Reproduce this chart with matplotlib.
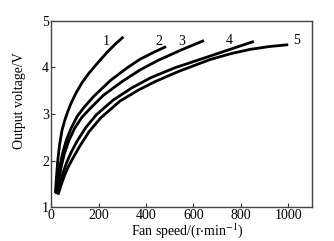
import matplotlib
matplotlib.use("Agg")
import matplotlib.pyplot as plt

plt.rcParams["font.family"] = ["Liberation Serif", "DejaVu Serif"]
plt.rcParams["mathtext.fontset"] = "stix"

# ── Data ──────────────────────────────────────────────────────────────

x1 = [18, 22, 28, 36, 46, 58, 70, 85, 105, 130, 160, 195, 235, 270, 305]
y1 = [1.30, 1.60, 2.00, 2.35, 2.65, 2.87, 3.05, 3.24, 3.45, 3.67, 3.88, 4.09, 4.32, 4.50, 4.66]

x2 = [22, 28, 36, 48, 65, 85, 110, 140, 180, 250, 320, 376, 430, 485]
y2 = [1.28, 1.55, 1.85, 2.15, 2.45, 2.70, 2.95, 3.15, 3.38, 3.72, 3.99, 4.18, 4.32, 4.45]

x3 = [25, 32, 42, 55, 75, 100, 130, 165, 220, 300, 376, 450, 550, 645]
y3 = [1.28, 1.55, 1.85, 2.13, 2.43, 2.70, 2.93, 3.12, 3.40, 3.70, 3.95, 4.15, 4.38, 4.58]

x4 = [28, 38, 50, 65, 85, 110, 145, 190, 262, 340, 420, 520, 620, 720, 790, 855]
y4 = [1.27, 1.50, 1.73, 1.95, 2.18, 2.42, 2.70, 2.98, 3.30, 3.56, 3.78, 3.99, 4.16, 4.33, 4.45, 4.56]

x5 = [30, 42, 56, 72, 92, 120, 160, 210, 291, 370, 440, 540, 670, 760, 840, 920, 1000]
y5 = [1.27, 1.47, 1.67, 1.86, 2.05, 2.30, 2.62, 2.92, 3.28, 3.52, 3.70, 3.92, 4.17, 4.30, 4.39, 4.45, 4.49]

curve_labels = ["1", "2", "3", "4", "5"]
label_x = [232, 453, 551, 750, 1037]
label_y = [4.56, 4.56, 4.56, 4.58, 4.58]

xticks = [0, 200, 400, 600, 800, 1000]
yticks = [1, 2, 3, 4, 5]

# ── Plot ──────────────────────────────────────────────────────────────

fig = plt.figure(figsize=(3.34, 2.41), dpi=100)
ax = fig.add_axes([0.153, 0.141, 0.781, 0.772])

for xs, ys in [(x1, y1), (x2, y2), (x3, y3), (x4, y4), (x5, y5)]:
    ax.plot(xs, ys, color="black", linewidth=2.0, solid_capstyle="butt",
            solid_joinstyle="round")

for lab, lx, ly in zip(curve_labels, label_x, label_y):
    ax.text(lx, ly, lab, fontsize=10, ha="center", va="center")

ax.set_xlim(0, 1100)
ax.set_ylim(1, 5)
ax.set_xticks(xticks)
ax.set_yticks(yticks)
ax.tick_params(direction="in", length=3, width=0.8, labelsize=10, pad=1.5,
               colors="#333333", labelcolor="black")

for s in ax.spines.values():
    s.set_linewidth(1.0)
    s.set_color("#444444")

ax.set_xlabel(r"Fan speed/(r$\cdot$min$^{-1}$)", fontsize=10)
ax.set_ylabel("Output voltage/V", fontsize=10)
ax.xaxis.set_label_coords(0.521, -0.075)
ax.yaxis.set_label_coords(-0.098, 0.57)

fig.savefig("out.png", dpi=100)
